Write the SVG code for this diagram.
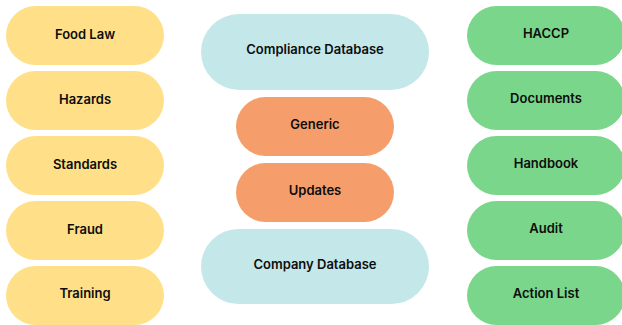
<svg xmlns="http://www.w3.org/2000/svg" width="622" height="325" viewBox="0 0 622 325">
<style>
text{font-family:Inter,"Noto Sans",sans-serif;font-weight:600;font-size:13px;fill:#0d0d0d;text-anchor:middle}
.y{fill:#FFE089}.g{fill:#7AD68A}.b{fill:#C4E7E9}.o{fill:#F69E6B}
</style>
<g id="food-law"><rect class="y" x="6" y="6" width="158" height="59" rx="29.5"/><text x="85" y="39">Food Law</text></g>
<g id="hazards"><rect class="y" x="6" y="71" width="158" height="59" rx="29.5"/><text x="85" y="104">Hazards</text></g>
<g id="standards"><rect class="y" x="6" y="136" width="158" height="59" rx="29.5"/><text x="85" y="169">Standards</text></g>
<g id="fraud"><rect class="y" x="6" y="201" width="158" height="59" rx="29.5"/><text x="85" y="234">Fraud</text></g>
<g id="training"><rect class="y" x="6" y="266" width="158" height="59" rx="29.5"/><text x="85" y="298">Training</text></g>
<g id="compliance-database"><rect class="b" x="201" y="14" width="228" height="76" rx="38"/><text x="315" y="54">Compliance Database</text></g>
<g id="generic"><rect class="o" x="236" y="97" width="158" height="59" rx="29.5"/><text x="315" y="129">Generic</text></g>
<g id="updates"><rect class="o" x="236" y="163" width="158" height="59" rx="29.5"/><text x="315" y="195">Updates</text></g>
<g id="company-database"><rect class="b" x="201" y="229" width="228" height="75" rx="37.5"/><text x="315" y="269">Company Database</text></g>
<g id="haccp"><rect class="g" x="467" y="6" width="158" height="59" rx="29.5"/><text x="546" y="38">HACCP</text></g>
<g id="documents"><rect class="g" x="467" y="71" width="158" height="59" rx="29.5"/><text x="546" y="103">Documents</text></g>
<g id="handbook"><rect class="g" x="467" y="136" width="158" height="59" rx="29.5"/><text x="546" y="168">Handbook</text></g>
<g id="audit"><rect class="g" x="467" y="201" width="158" height="59" rx="29.5"/><text x="546" y="233">Audit</text></g>
<g id="action-list"><rect class="g" x="467" y="266" width="158" height="59" rx="29.5"/><text x="546" y="298">Action List</text></g>
<g id="connectors"></g>
</svg>
